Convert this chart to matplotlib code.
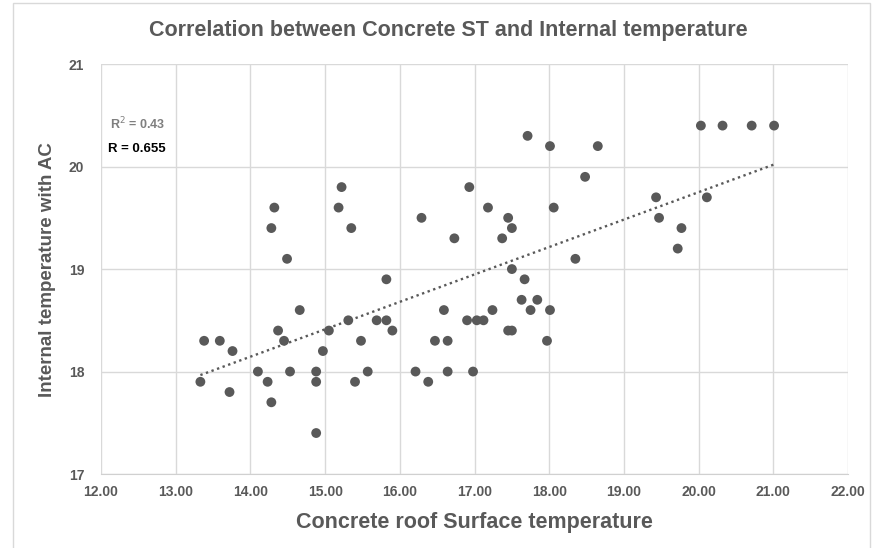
import numpy as np
import matplotlib.pyplot as plt
from matplotlib.patches import Rectangle

# roof surface temperature vs internal temperature (AC on)
surface_temp = [13.33, 13.38, 13.59, 13.72, 13.76, 14.10, 14.23, 14.28, 14.28, 14.32,
                14.37, 14.45, 14.49, 14.53, 14.66, 14.88, 14.88, 14.88, 14.97, 15.05,
                15.18, 15.22, 15.31, 15.35, 15.40, 15.48, 15.57, 15.69, 15.82, 15.82,
                15.90, 16.21, 16.29, 16.38, 16.47, 16.59, 16.64, 16.64, 16.73, 16.90,
                16.93, 16.98, 17.03, 17.12, 17.18, 17.24, 17.37, 17.45, 17.45, 17.50,
                17.50, 17.50, 17.63, 17.67, 17.71, 17.75, 17.84, 17.97, 18.01, 18.01,
                18.06, 18.35, 18.48, 18.65, 19.43, 19.47, 19.72, 19.77, 20.03, 20.11,
                20.32, 20.71, 21.01]
internal_temp = [17.9, 18.3, 18.3, 17.8, 18.2, 18.0, 17.9, 17.7, 19.4, 19.6,
                 18.4, 18.3, 19.1, 18.0, 18.6, 18.0, 17.9, 17.4, 18.2, 18.4,
                 19.6, 19.8, 18.5, 19.4, 17.9, 18.3, 18.0, 18.5, 18.5, 18.9,
                 18.4, 18.0, 19.5, 17.9, 18.3, 18.6, 18.3, 18.0, 19.3, 18.5,
                 19.8, 18.0, 18.5, 18.5, 19.6, 18.6, 19.3, 19.5, 18.4, 18.4,
                 19.4, 19.0, 18.7, 18.9, 20.3, 18.6, 18.7, 18.3, 18.6, 20.2,
                 19.6, 19.1, 19.9, 20.2, 19.7, 19.5, 19.2, 19.4, 20.4, 19.7,
                 20.4, 20.4, 20.4]

x_ticks = np.arange(12, 22.01, 1)
y_ticks = [17, 18, 19, 20, 21]

plt.rcParams['font.family'] = ['Liberation Sans', 'DejaVu Sans']
grey = '#595959'

fig = plt.figure(figsize=(8.74, 5.48), dpi=100)
ax = fig.add_axes([0.1156, 0.135, 0.8547, 0.748])

x = np.array(surface_temp)
y = np.array(internal_temp)
ax.scatter(x, y, s=50, color=grey, edgecolors='none', zorder=3)

# linear trendline over the data range
slope, intercept = np.polyfit(x, y, 1)
xs = np.array([x.min(), x.max()])
ax.plot(xs, slope * xs + intercept, linestyle=(0, (1, 1.5)), color=grey, lw=1.7, zorder=2)

ax.set_xlim(12, 22)
ax.set_ylim(17, 21)
ax.set_xticks(x_ticks)
ax.set_xticklabels(['{:.2f}'.format(v) for v in x_ticks])
ax.set_yticks(y_ticks)
ax.grid(True, color='#d9d9d9', lw=1)
ax.set_axisbelow(True)
for side in ['top', 'right', 'left']:
    ax.spines[side].set_visible(False)
ax.spines['bottom'].set_color('#d0d0d0')
ax.tick_params(length=0, labelsize=10, labelcolor=grey, pad=8)
for lbl in ax.get_xticklabels() + ax.get_yticklabels():
    lbl.set_fontweight('bold')
ax.tick_params(axis='y', pad=12)

ax.set_xlabel('Concrete roof Surface temperature', fontsize=15.5, fontweight='bold',
              color=grey, labelpad=9)
ax.set_ylabel('Internal temperature with AC', fontsize=13.5, fontweight='bold',
              color=grey, labelpad=9)

fig.text(0.513, 0.945, 'Correlation between Concrete ST and Internal temperature',
         ha='center', va='center', fontsize=15.5, fontweight='bold', color=grey)

ax.text(12.12, 20.42, 'R$^2$ = 0.43', fontsize=9, fontweight='bold', color='#7f7f7f',
        va='center')
ax.text(12.09, 20.17, 'R = 0.655', fontsize=9.5, fontweight='bold', color='black',
        va='center')

# chart area border
fig.patches.append(Rectangle((0.015, -0.01), 0.98, 1.004, transform=fig.transFigure,
                             fill=False, edgecolor='#d9d9d9', lw=1))

fig.savefig('out.png', dpi=100)
